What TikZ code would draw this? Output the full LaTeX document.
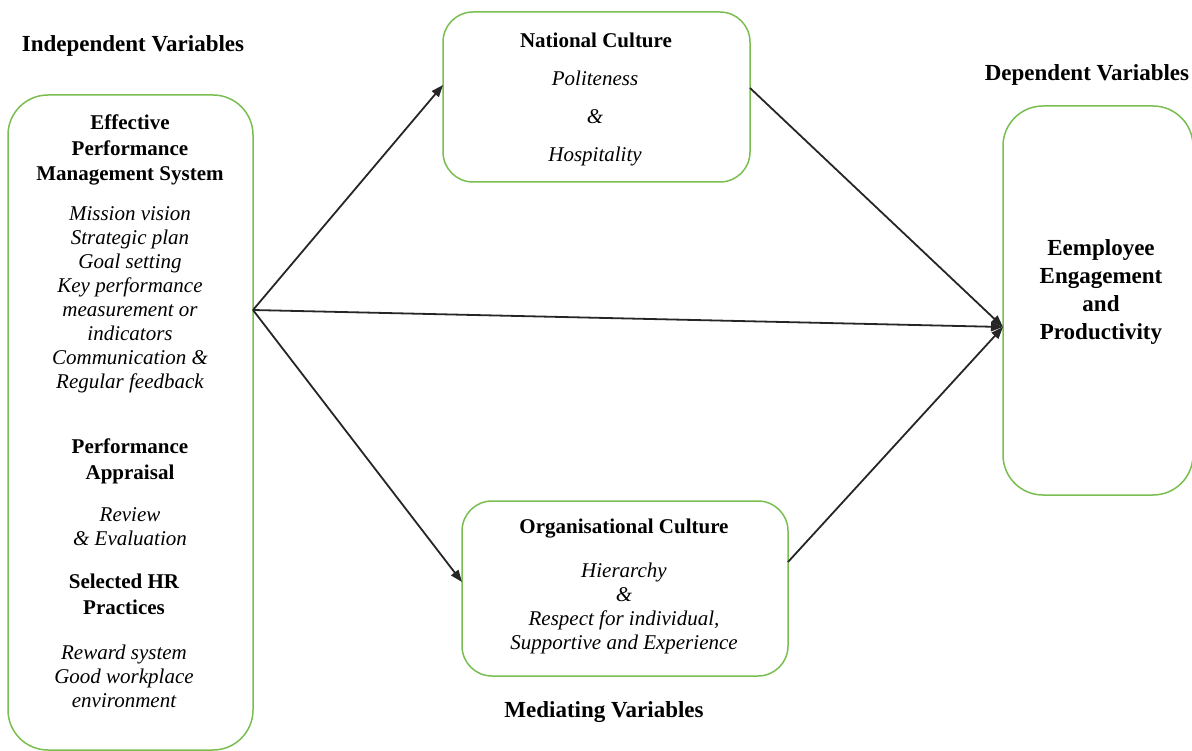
\documentclass[tikz,border=0pt]{standalone}
\usepackage{fontspec}
\setmainfont{Liberation Serif}
\usetikzlibrary{arrows.meta}
\definecolor{boxgreen}{RGB}{122,190,82}
\tikzset{
  vbox/.style={draw=boxgreen, line width=1.5pt, rounded corners=#1, inner sep=0pt},
  hd/.style={font=\fontsize{21}{25.5}\selectfont\bfseries, align=center, inner sep=0pt},
  lab/.style={font=\fontsize{23}{27}\selectfont\bfseries, align=center, inner sep=0pt},
  it/.style={font=\fontsize{21}{24}\selectfont\itshape, align=center, inner sep=0pt},
  conn/.style={draw=black!85, line width=1.8pt, -{Triangle[length=12pt,width=9pt]}}
}
\begin{document}
\begin{tikzpicture}[x=1pt,y=-1pt]
\useasboundingbox (0,0) rectangle (1192,751);
% boxes
\node[vbox=40pt, minimum width=245pt, minimum height=655pt] (L) at (130.5,422.5) {};
\node[vbox=30pt, minimum width=307pt, minimum height=170pt] (N) at (596.5,97) {};
\node[vbox=30pt, minimum width=326pt, minimum height=175pt] (O) at (625,588.5) {};
\node[vbox=40pt, minimum width=190pt, minimum height=389pt] (D) at (1098,300.5) {};
% headers
\node[lab] (iv) at (133,46) {Independent Variables};
\node[lab] (dv) at (1087,75) {Dependent Variables};
\node[lab] (mv) at (604,712) {Mediating Variables};
% left box text
\node[hd] (l1) at (130,150) {Effective\\Performance\\Management System};
\node[it] (l2) at (130,300) {Mission vision\\Strategic plan\\Goal setting\\Key performance\\measurement or\\indicators\\Communication \&\\Regular feedback};
\node[hd] (l3) at (130,461.5) {Performance\\Appraisal};
\node[it] (l4) at (130,527) {Review\\\& Evaluation};
\node[hd] (l5) at (124,594.5) {Selected HR\\Practices};
\node[it] (l6) at (124,676) {Reward system\\Good workplace\\environment};
% national culture text
\node[hd] (n1) at (596,40) {National Culture};
\node[it] (n2) at (595,78) {Politeness};
\node[it] (n3) at (595,117) {\&};
\node[it] (n4) at (595,156) {Hospitality};
% org culture text
\node[hd] (o1) at (624,529) {Organisational Culture};
\node[it] (o2) at (624,608.5) {Hierarchy\\\&\\Respect for individual,\\Supportive and Experience};
% dependent text
\node[font=\fontsize{23}{28}\selectfont\bfseries, align=center, inner sep=0pt] (d1) at (1101,292) {Eemployee\\Engagement\\and\\Productivity};
% connector points
\coordinate (src) at (253,310);
\coordinate (nin) at (443,85);
\coordinate (nout) at (750,88);
\coordinate (oin) at (462,582);
\coordinate (oout) at (788,562);
\coordinate (din) at (1003,327);
\draw[conn] (src) -- (nin);
\draw[conn] (src) -- (oin);
\draw[conn] (src) -- (din);
\draw[conn] (nout) -- (din);
\draw[conn] (oout) -- (din);
\end{tikzpicture}
\end{document}
